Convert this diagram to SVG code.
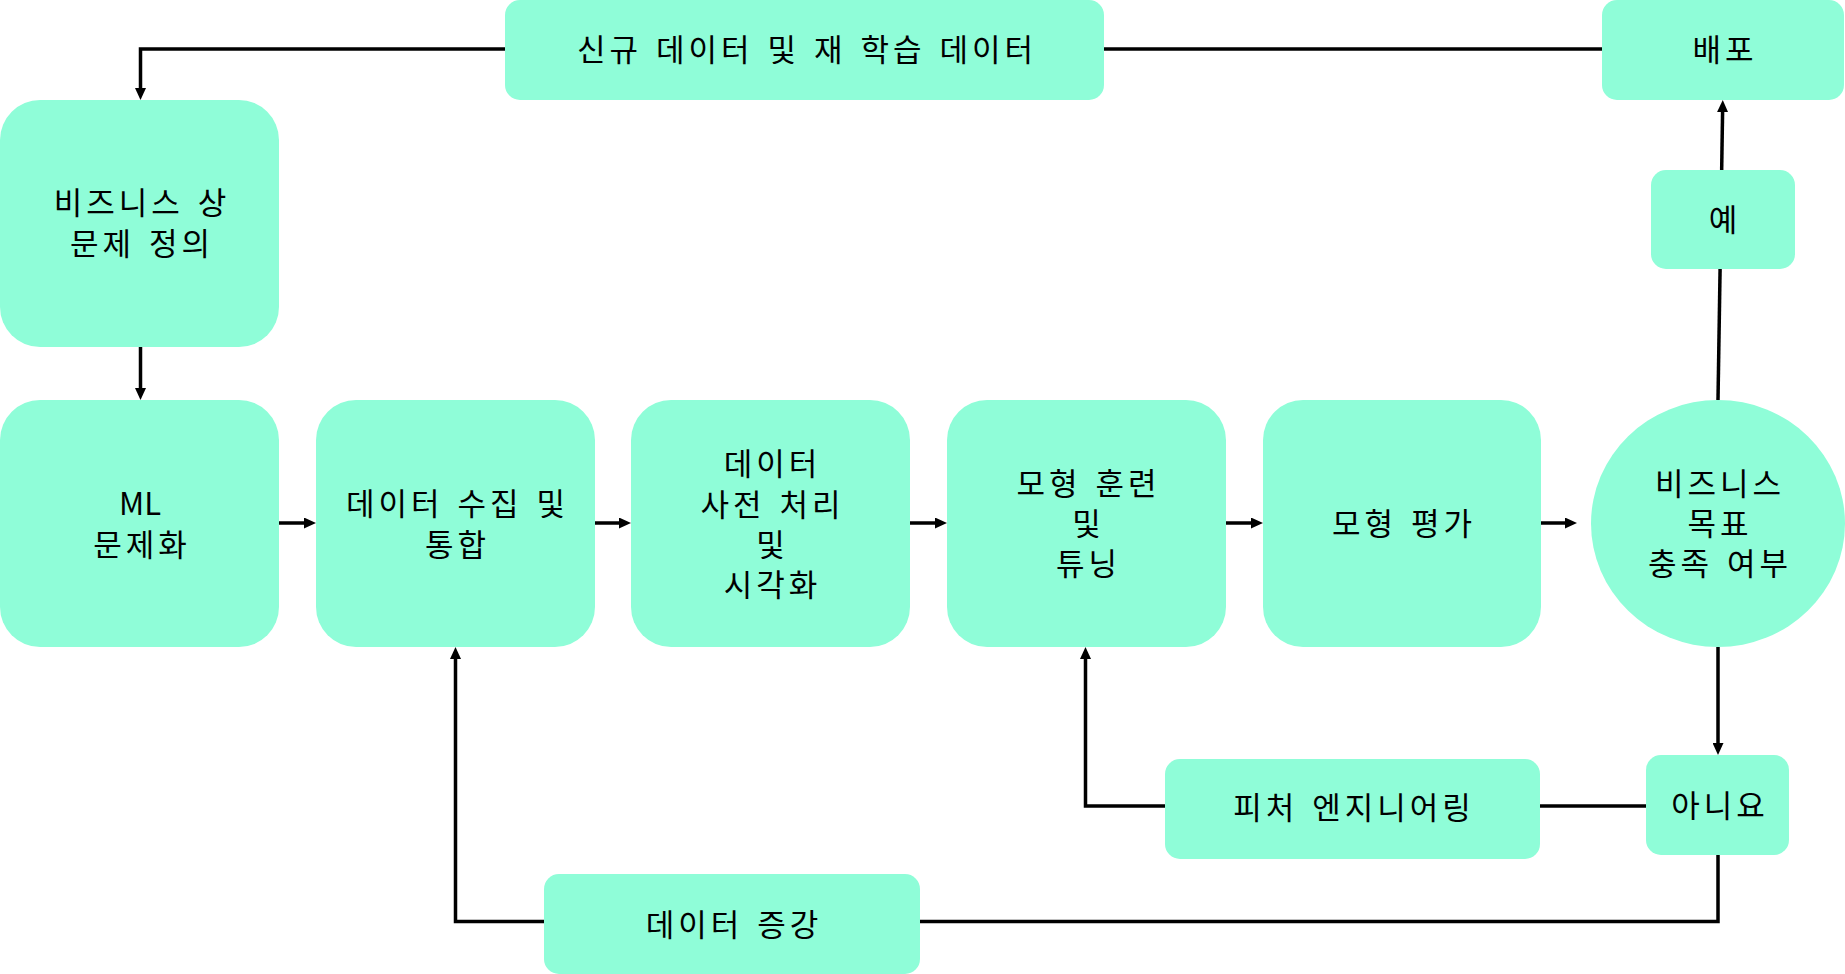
<svg xmlns="http://www.w3.org/2000/svg" width="1845" height="974" viewBox="0 0 1845 974">
<style>
.n{fill:#8ffdd8;stroke:none}
.t{font-family:"Noto Sans CJK KR","Noto Sans",sans-serif;font-size:31px;fill:#000;text-anchor:middle;dominant-baseline:central;letter-spacing:4px;word-spacing:3px}
.l{letter-spacing:0}
.c{fill:none;stroke:#000;stroke-width:3.5}
.a{marker-end:url(#ah)}
</style>
<defs>
<marker id="ah" viewBox="0 0 12 11" refX="1" refY="5.5" markerWidth="12" markerHeight="11" markerUnits="userSpaceOnUse" orient="auto">
<path d="M0,0 L12,5.5 L0,11 z" fill="#000"/>
</marker>
</defs>
<rect width="1845" height="974" fill="#fff"/>
<g id="connectors">
<path class="c a" d="M505,49 H140.5 V89"/>
<path class="c" d="M1602,49 H1104"/>
<path class="c a" d="M140.5,347 V389"/>
<path class="c a" d="M279,523 H305"/>
<path class="c a" d="M595,523 H620"/>
<path class="c a" d="M910,523 H936"/>
<path class="c a" d="M1226,523 H1252"/>
<path class="c a" d="M1541,523 H1566"/>
<path class="c a" d="M1718,400 L1722.6,111"/>
<path class="c a" d="M1718,647 V744"/>
<path class="c" d="M1646,806 H1540"/>
<path class="c a" d="M1165,806 H1085.5 V658"/>
<path class="c" d="M1718,855 V921.5 H920"/>
<path class="c a" d="M544,921.5 H455.5 V658"/>
</g>
<g id="n-new-data">
<rect class="n" x="505" y="0" width="599" height="100" rx="15"/>
<text class="t" x="807" y="47">신규 데이터 및 재 학습 데이터</text>
</g>
<g id="n-deploy">
<rect class="n" x="1602" y="0" width="242" height="100" rx="15"/>
<text class="t" x="1725" y="47">배포</text>
</g>
<g id="n-yes">
<rect class="n" x="1651" y="170" width="144" height="99" rx="15"/>
<text class="t" x="1725" y="217">예</text>
</g>
<g id="n-business">
<rect class="n" x="0" y="100" width="279" height="247" rx="40"/>
<text class="t" x="142" y="200">비즈니스 상</text>
<text class="t" x="142" y="241">문제 정의</text>
</g>
<g id="n-ml">
<rect class="n" x="0" y="400" width="279" height="247" rx="40"/>
<text class="t l" x="140" y="501">ML</text>
<text class="t" x="142" y="542">문제화</text>
</g>
<g id="n-collect">
<rect class="n" x="316" y="400" width="279" height="247" rx="40"/>
<text class="t" x="457.5" y="501">데이터 수집 및</text>
<text class="t" x="457.5" y="542">통합</text>
</g>
<g id="n-preprocess">
<rect class="n" x="631" y="400" width="279" height="247" rx="40"/>
<text class="t" x="772.5" y="461">데이터</text>
<text class="t" x="772.5" y="502">사전 처리</text>
<text class="t" x="772.5" y="542">및</text>
<text class="t" x="772.5" y="582">시각화</text>
</g>
<g id="n-train">
<rect class="n" x="947" y="400" width="279" height="247" rx="40"/>
<text class="t" x="1088.5" y="481">모형 훈련</text>
<text class="t" x="1088.5" y="521">및</text>
<text class="t" x="1088.5" y="561">튜닝</text>
</g>
<g id="n-eval">
<rect class="n" x="1263" y="400" width="278" height="247" rx="40"/>
<text class="t" x="1404" y="521">모형 평가</text>
</g>
<g id="n-goal">
<ellipse class="n" cx="1718" cy="523.5" rx="127" ry="123.5"/>
<text class="t" x="1720" y="481">비즈니스</text>
<text class="t" x="1720" y="521">목표</text>
<text class="t" x="1720" y="561">충족 여부</text>
</g>
<g id="n-feature">
<rect class="n" x="1165" y="759" width="375" height="100" rx="15"/>
<text class="t" x="1354" y="805">피처 엔지니어링</text>
</g>
<g id="n-no">
<rect class="n" x="1646" y="755" width="143" height="100" rx="15"/>
<text class="t" x="1720" y="803">아니요</text>
</g>
<g id="n-augment">
<rect class="n" x="544" y="874" width="376" height="100" rx="15"/>
<text class="t" x="734" y="922">데이터 증강</text>
</g>
</svg>
